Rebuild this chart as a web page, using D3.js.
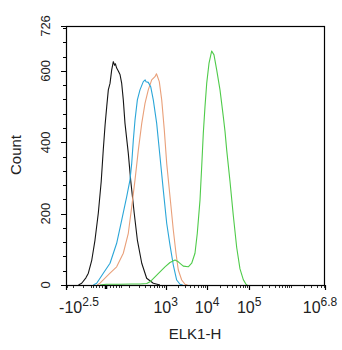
<!DOCTYPE html>
<html><head><meta charset="utf-8">
<script src="https://cdn.jsdelivr.net/npm/d3@7"></script>
<style>body{margin:0;background:#fff}svg{display:block}text{font-family:"Liberation Sans",Arial,sans-serif;fill:#222}</style>
</head><body>
<script>
// Histogram data: [fluorescence value (ELK1-H), count]
const blackCurve = [[-140,0],[-111,5],[-80,20],[-65,33],[-47,70],[-33,126],[-21,201],[-12,290],[-6.4,380],[-2,450],[1.6,500],[5.4,547],[9.8,565],[14.6,603],[19.6,626],[24,616],[27,620],[31.6,608],[38.3,600],[46,590],[54.3,565],[62.9,519],[72.9,453],[95.3,369],[114,294],[147,201],[182,126],[242,61],[329,19],[490,5],[724,0]];
const blueCurve = [[-40,0],[-26.5,5],[-6.4,33],[9.8,61],[31.6,117],[54.3,182],[84,248],[108,294],[123,341],[138,406],[155,462],[182,519],[216,547],[267,570],[300,575],[316,570],[363,568],[420,556],[490,519],[598,453],[724,360],[876,266],[1063,173],[1281,112],[1543,56],[1864,14],[2242,2],[2600,0]];
const orangeCurve = [[-25,0],[-15.5,5],[9.8,33],[31.6,51],[62.9,89],[95.3,145],[123,219],[155,294],[194,378],[242,453],[297,509],[363,547],[446,575],[542,584],[590,592],[620,586],[696,570],[800,519],[928,434],[1063,341],[1281,248],[1543,154],[1793,89],[2039,42],[2464,14],[2959,2],[3400,0]];
const greenCurve = [[-15.5,0],[0,2],[46,2],[120,3],[216,3],[330,4],[403,9],[542,23],[724,37],[965,51],[1281,63],[1696,70],[2039,65],[2692,53],[3552,51],[4284,61],[5136,89],[5832,145],[6768,238],[7432,332],[8112,425],[8904,500],[9776,565],[11084,621],[12860,656],[14588,645],[16912,603],[20272,547],[24296,472],[26700,430],[29264,378],[35052,290],[41980,195],[50548,105],[60520,45],[72520,15],[84000,2],[90000,0]];

const yMajorTicks = [0,200,400,600,726];
const yMinorStep = 40;
const xTickValues = [-316.2, 1000, 10000, 100000, 6309573];
const xTickBase = ["-10","10","10","10","10"];
const xTickExp = ["2.5","3","4","5","6.8"];
const xMinorTicks = [-300,-200,-100,-50,-40,-30,-20,-10,10,20,30,40,50,100,200,300,400,500,600,700,800,900,
  2000,3000,4000,5000,6000,7000,8000,9000,20000,30000,40000,50000,60000,70000,80000,90000,
  200000,300000,400000,500000,600000,700000,800000,900000,1000000,2000000,3000000,4000000,5000000,6000000];

const W = 342, H = 350;
const L = 66, R = 325, T = 26, B = 285;
const svg = d3.select("body").append("svg").attr("width", W).attr("height", H);

const x = d3.scaleSymlog().constant(40).domain([-316.2, 6309573]).range([L, R]);
const y = d3.scaleLinear().domain([0, 726]).range([B, T]);

const line = d3.line().x(d => x(d[0])).y(d => y(d[1]));
const series = [
  {data: blackCurve, color: "#151515"},
  {data: orangeCurve, color: "#e9a07a"},
  {data: blueCurve, color: "#2ba6d8"},
  {data: greenCurve, color: "#4fcb4a"}
];
svg.append("g").selectAll("path").data(series).join("path")
  .attr("d", d => line(d.data)).attr("fill", "none")
  .attr("stroke", d => d.color).attr("stroke-width", 1.1).attr("stroke-linejoin", "round");

// frame
svg.append("rect").attr("x", L + 0.5).attr("y", T + 0.5).attr("width", R - L - 1).attr("height", B - T)
  .attr("fill", "none").attr("stroke", "#000").attr("stroke-width", 1.2);

// y axis
const yMinor = d3.range(0, 726, yMinorStep);
svg.append("g").selectAll("line.minor").data(yMinor).join("line")
  .attr("x1", L - 3).attr("x2", L).attr("y1", d => Math.round(y(d)) + 0.5).attr("y2", d => Math.round(y(d)) + 0.5)
  .attr("stroke", "#000");
svg.append("g").selectAll("line.major").data(yMajorTicks).join("line")
  .attr("x1", L - 5).attr("x2", L).attr("y1", d => Math.round(y(d)) + 0.5).attr("y2", d => Math.round(y(d)) + 0.5)
  .attr("stroke", "#000");
svg.append("g").selectAll("text").data(yMajorTicks).join("text")
  .attr("transform", d => `translate(50,${y(d)}) rotate(-90)`)
  .attr("text-anchor", "middle").attr("font-size", 13).text(d => d);
svg.append("text").attr("transform", `translate(21,155) rotate(-90)`)
  .attr("text-anchor", "middle").attr("font-size", 15).text("Count");

// x axis
svg.append("g").selectAll("line").data(xMinorTicks).join("line")
  .attr("x1", d => Math.round(x(d)) + 0.5).attr("x2", d => Math.round(x(d)) + 0.5)
  .attr("y1", B).attr("y2", B + 3).attr("stroke", "#000").attr("stroke-width", 0.8);
svg.append("line").attr("x1", x(0)).attr("x2", x(0)).attr("y1", B).attr("y2", B + 4)
  .attr("stroke", "#000").attr("stroke-width", 2.5);
svg.append("g").selectAll("line").data(xTickValues).join("line")
  .attr("x1", d => Math.round(x(d)) + 0.5).attr("x2", d => Math.round(x(d)) + 0.5)
  .attr("y1", B).attr("y2", B + 5).attr("stroke", "#000").attr("stroke-width", 1.2);
const xl = svg.append("g").selectAll("text").data(xTickValues).join("text")
  .attr("x", (d, i) => x(d) + (i === 0 ? 13 : i === xTickValues.length - 1 ? -5 : 0))
  .attr("y", 313).attr("text-anchor", "middle").attr("font-size", 16);
xl.append("tspan").text((d, i) => xTickBase[i]);
xl.append("tspan").attr("dy", -7).attr("font-size", 12).text((d, i) => xTickExp[i]);
svg.append("text").attr("x", 195).attr("y", 339).attr("text-anchor", "middle")
  .attr("font-size", 15).text("ELK1-H");
</script>
</body></html>
